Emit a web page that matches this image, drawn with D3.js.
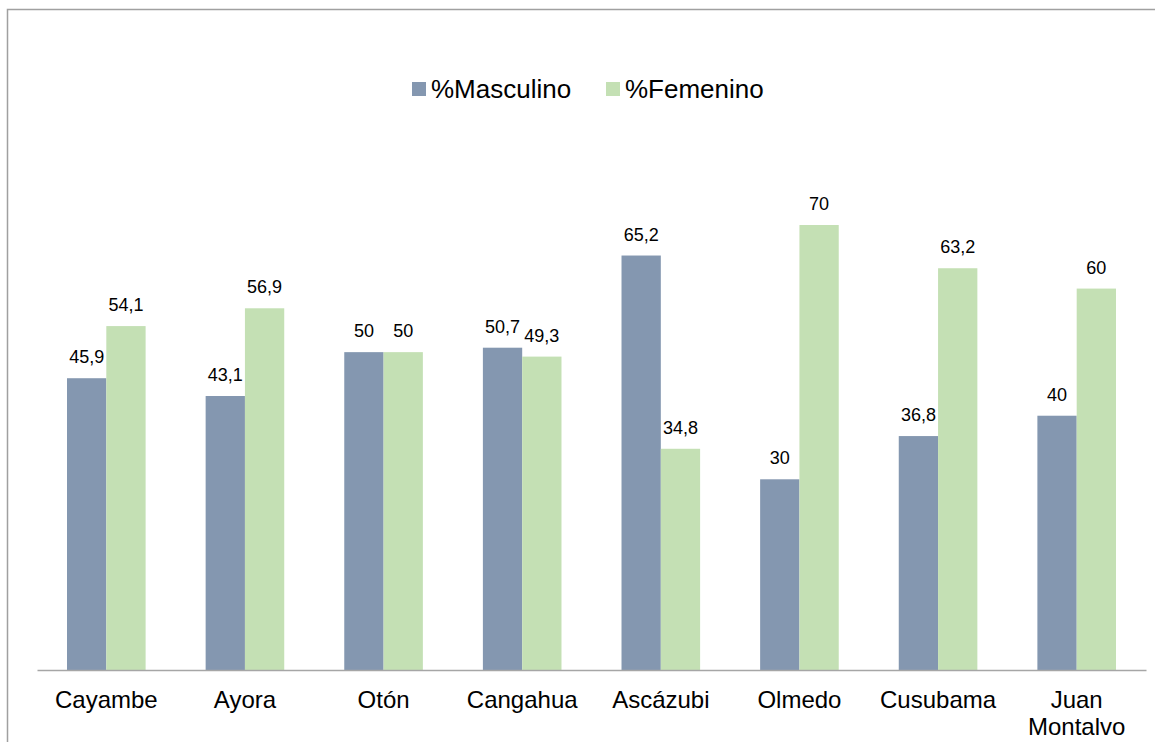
<!DOCTYPE html>
<html>
<head>
<meta charset="utf-8">
<script src="https://cdn.jsdelivr.net/npm/d3@7"></script>
<style>
  body { margin: 0; background: #fff; }
  text { font-family: "Liberation Sans", Arial, sans-serif; fill: #000; }
</style>
</head>
<body>
<div id="chart"></div>
<script>
var categories = ['Cayambe', 'Ayora', 'Otón', 'Cangahua', 'Ascázubi', 'Olmedo', 'Cusubama', 'Juan Montalvo'];
var seriesNames = ['%Masculino', '%Femenino'];
var masculino = [45.9, 43.1, 50, 50.7, 65.2, 30, 36.8, 40];
var femenino = [54.1, 56.9, 50, 49.3, 34.8, 70, 63.2, 60];
var colors = ['#8497b0', '#c4e0b4'];

var W = 1155, H = 742;
var svg = d3.select('#chart').append('svg')
  .attr('width', W)
  .attr('height', H);

// outer frame (runs off the right and bottom edges)
svg.append('rect')
  .attr('x', 7.5).attr('y', 9.5)
  .attr('width', W).attr('height', H)
  .attr('fill', 'none')
  .attr('stroke', '#a0a0a0')
  .attr('stroke-width', 1.5);

var rows = categories.map(function(c, i) {
  return { cat: c, values: [masculino[i], femenino[i]] };
});

var x0 = d3.scaleBand()
  .domain(categories)
  .range([37, 1146])
  .paddingInner(0.433)
  .paddingOuter(0.2165);
var x1 = d3.scaleBand()
  .domain([0, 1])
  .range([0, x0.bandwidth()]);
var y = d3.scaleLinear()
  .domain([0, 80])
  .range([670, 670 - 80 * 6.357]);

// bars
var groups = svg.append('g').selectAll('g')
  .data(rows).enter().append('g')
  .attr('transform', function(d) { return 'translate(' + x0(d.cat) + ',0)'; });

groups.selectAll('rect')
  .data(function(d) { return d.values; })
  .enter().append('rect')
  .attr('x', function(d, i) { return x1(i); })
  .attr('y', function(d) { return y(d); })
  .attr('width', x1.bandwidth())
  .attr('height', function(d) { return y(0) - y(d); })
  .attr('fill', function(d, i) { return colors[i]; });

// value labels
groups.selectAll('text')
  .data(function(d) { return d.values; })
  .enter().append('text')
  .attr('x', function(d, i) { return x1(i) + x1.bandwidth() / 2; })
  .attr('y', function(d) { return y(d) - 15; })
  .attr('text-anchor', 'middle')
  .style('font-size', '18px')
  .text(function(d) { return String(d).replace('.', ','); });

// x axis
var xAxis = svg.append('g')
  .attr('transform', 'translate(0,' + y(0) + ')')
  .call(d3.axisBottom(x0).tickSize(0).tickPadding(0));
xAxis.select('.domain').attr('stroke', '#a6a6a6').attr('stroke-width', 1.5);
xAxis.selectAll('.tick text').each(function(d) {
  var t = d3.select(this).text('').attr('y', 0).attr('dy', null);
  var words = d.split(' ');
  words.forEach(function(w, i) {
    t.append('tspan')
      .attr('x', 0)
      .attr('y', 38 + i * 27)
      .text(w);
  });
}).style('font-size', '24px').attr('fill', '#000')
  .style('font-family', '"Liberation Sans", Arial, sans-serif');

// legend
var legend = svg.append('g');
var legendX = [412, 606];
seriesNames.forEach(function(name, i) {
  legend.append('rect')
    .attr('x', legendX[i]).attr('y', 82)
    .attr('width', 14).attr('height', 14)
    .attr('fill', colors[i]);
  legend.append('text')
    .attr('x', legendX[i] + 19).attr('y', 98)
    .style('font-size', '26px')
    .text(name);
});
</script>
</body>
</html>
